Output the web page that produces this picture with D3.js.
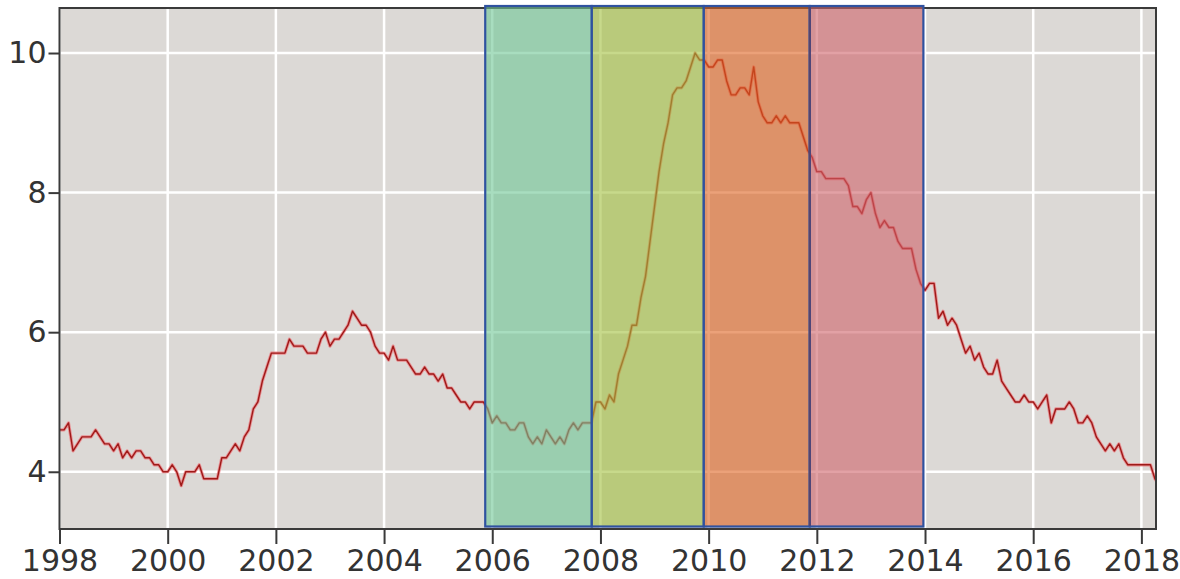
<!DOCTYPE html>
<html>
<head>
<meta charset="utf-8">
<script src="https://cdn.jsdelivr.net/npm/d3@7"></script>
<style>
  body { margin: 0; background: #fff; }
  text { font-family: "DejaVu Sans", Verdana, sans-serif; }
</style>
</head>
<body>
<div class="chart"></div>
<script>
// monthly rate, Jan 1998 .. May 2018
var startYear = 1998;
var rates = [
  4.6, 4.6, 4.7, 4.3, 4.4, 4.5, 4.5, 4.5, 4.6, 4.5, 4.4, 4.4,
  4.3, 4.4, 4.2, 4.3, 4.2, 4.3, 4.3, 4.2, 4.2, 4.1, 4.1, 4.0,
  4.0, 4.1, 4.0, 3.8, 4.0, 4.0, 4.0, 4.1, 3.9, 3.9, 3.9, 3.9,
  4.2, 4.2, 4.3, 4.4, 4.3, 4.5, 4.6, 4.9, 5.0, 5.3, 5.5, 5.7,
  5.7, 5.7, 5.7, 5.9, 5.8, 5.8, 5.8, 5.7, 5.7, 5.7, 5.9, 6.0,
  5.8, 5.9, 5.9, 6.0, 6.1, 6.3, 6.2, 6.1, 6.1, 6.0, 5.8, 5.7,
  5.7, 5.6, 5.8, 5.6, 5.6, 5.6, 5.5, 5.4, 5.4, 5.5, 5.4, 5.4,
  5.3, 5.4, 5.2, 5.2, 5.1, 5.0, 5.0, 4.9, 5.0, 5.0, 5.0, 4.9,
  4.7, 4.8, 4.7, 4.7, 4.6, 4.6, 4.7, 4.7, 4.5, 4.4, 4.5, 4.4,
  4.6, 4.5, 4.4, 4.5, 4.4, 4.6, 4.7, 4.6, 4.7, 4.7, 4.7, 5.0,
  5.0, 4.9, 5.1, 5.0, 5.4, 5.6, 5.8, 6.1, 6.1, 6.5, 6.8, 7.3,
  7.8, 8.3, 8.7, 9.0, 9.4, 9.5, 9.5, 9.6, 9.8, 10.0, 9.9, 9.9,
  9.8, 9.8, 9.9, 9.9, 9.6, 9.4, 9.4, 9.5, 9.5, 9.4, 9.8, 9.3,
  9.1, 9.0, 9.0, 9.1, 9.0, 9.1, 9.0, 9.0, 9.0, 8.8, 8.6, 8.5,
  8.3, 8.3, 8.2, 8.2, 8.2, 8.2, 8.2, 8.1, 7.8, 7.8, 7.7, 7.9,
  8.0, 7.7, 7.5, 7.6, 7.5, 7.5, 7.3, 7.2, 7.2, 7.2, 6.9, 6.7,
  6.6, 6.7, 6.7, 6.2, 6.3, 6.1, 6.2, 6.1, 5.9, 5.7, 5.8, 5.6,
  5.7, 5.5, 5.4, 5.4, 5.6, 5.3, 5.2, 5.1, 5.0, 5.0, 5.1, 5.0,
  5.0, 4.9, 5.0, 5.1, 4.7, 4.9, 4.9, 4.9, 5.0, 4.9, 4.7, 4.7,
  4.8, 4.7, 4.5, 4.4, 4.3, 4.4, 4.3, 4.4, 4.2, 4.1, 4.1, 4.1,
  4.1, 4.1, 4.1, 3.9, 3.8
];
var xTicks = [1998, 2000, 2002, 2004, 2006, 2008, 2010, 2012, 2014, 2016, 2018];
var yTicks = [4, 6, 8, 10];
// highlighted periods (decimal years)
var periodStart = [2005.87, 2007.84, 2009.91, 2011.87];
var periodEnd   = [2007.84, 2009.91, 2011.87, 2013.97];
var periodFill  = ["rgb(110,198,148)", "rgb(162,191,61)", "rgb(222,99,31)", "rgb(207,99,105)"];

var width = 1180, height = 579;
var pLeft = 59.5, pRight = 1156, pTop = 8, pBottom = 529;

var x = d3.scaleLinear().domain([1998, 2018.27]).range([pLeft, pRight]);
var y = d3.scaleLinear().domain([3.18, 10.645]).range([pBottom, pTop]);

var svg = d3.select(".chart").append("svg")
  .attr("width", width)
  .attr("height", height);

svg.append("defs").append("clipPath").attr("id", "plotclip")
  .append("rect")
  .attr("x", pLeft).attr("y", pTop)
  .attr("width", pRight - pLeft).attr("height", pBottom - pTop);

svg.append("rect")
  .attr("x", pLeft).attr("y", pTop)
  .attr("width", pRight - pLeft).attr("height", pBottom - pTop)
  .attr("fill", "#dcd9d6");

// grid
svg.selectAll(".vgrid").data(xTicks).enter().append("line")
  .attr("x1", d => x(d)).attr("x2", d => x(d))
  .attr("y1", pTop).attr("y2", pBottom)
  .attr("stroke", "#fff").attr("stroke-width", 2.5);
svg.selectAll(".hgrid").data(yTicks).enter().append("line")
  .attr("x1", pLeft).attr("x2", pRight)
  .attr("y1", d => y(d)).attr("y2", d => y(d))
  .attr("stroke", "#fff").attr("stroke-width", 2.5);

var points = rates.map(function(v, i) {
  return { t: startYear + i / 12, v: v };
});

var line = d3.line().x(d => x(d.t)).y(d => y(d.v));

var plot = svg.append("g").attr("clip-path", "url(#plotclip)");
plot.append("path").datum(points)
  .attr("d", line)
  .attr("fill", "none")
  .attr("stroke", "#ee6f76")
  .attr("stroke-opacity", 0.7)
  .attr("stroke-width", 3.2)
  .attr("stroke-linejoin", "round");
plot.append("path").datum(points)
  .attr("d", line)
  .attr("fill", "none")
  .attr("stroke", "#9e1a18")
  .attr("stroke-width", 1.4)
  .attr("stroke-linejoin", "round");

// frame + axes
svg.append("rect")
  .attr("x", pLeft).attr("y", pTop)
  .attr("width", pRight - pLeft).attr("height", pBottom - pTop)
  .attr("fill", "none")
  .attr("stroke", "#3a3a3a").attr("stroke-width", 2);

var xAxis = svg.append("g")
  .attr("transform", "translate(0," + pBottom + ")")
  .call(d3.axisBottom(x).tickValues(xTicks).tickFormat(d3.format("d")).tickSize(15).tickPadding(6));
var yAxis = svg.append("g")
  .attr("transform", "translate(" + pLeft + ",0)")
  .call(d3.axisLeft(y).tickValues(yTicks).tickSize(11).tickPadding(2));

[xAxis, yAxis].forEach(function(a) {
  a.select(".domain").remove();
  a.selectAll("line").attr("stroke", "#3a3a3a").attr("stroke-width", 2);
  a.selectAll("text")
    .attr("fill", "#333")
    .style("font-size", "30px")
    .style("font-family", "'DejaVu Sans', Verdana, sans-serif");
});

// highlighted periods overlay
var periods = periodStart.map(function(s, i) {
  return { s: s, e: periodEnd[i], fill: periodFill[i] };
});
svg.selectAll(".period").data(periods).enter().append("rect")
  .attr("x", d => x(d.s))
  .attr("y", pTop - 2)
  .attr("width", d => x(d.e) - x(d.s))
  .attr("height", pBottom - pTop - 0.5)
  .attr("fill", d => d.fill)
  .attr("fill-opacity", 0.6)
  .attr("stroke", "#2f52a0")
  .attr("stroke-width", 2.2);

svg.append("line")
  .attr("x1", x(periodStart[3])).attr("x2", x(periodStart[3]))
  .attr("y1", pTop - 1).attr("y2", pBottom - 3)
  .attr("stroke", "#55446e").attr("stroke-width", 2);
</script>
</body>
</html>
